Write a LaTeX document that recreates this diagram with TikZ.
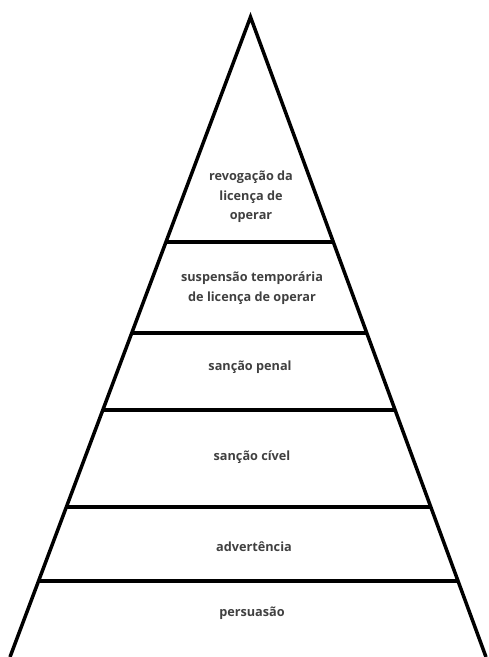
\documentclass[tikz,border=0pt]{standalone}
\usepackage{fontspec}
\setmainfont{Open Sans}
\usetikzlibrary{calc}
\tikzset{
    level/.style={line width=3.5pt},
    side/.style={line width=3.5pt, line join=miter},
    label/.style={align=center, text=black!75, font=\bfseries\fontsize{12.7}{19.5}\selectfont}
}
\begin{document}
\begin{tikzpicture}[x=1pt,y=-1pt]
\useasboundingbox (0,0) rectangle (489,657);
\coordinate (apex) at (250.5,17);
\coordinate (bl) at (10,657);
\coordinate (br) at (486,657);
\draw[side] (bl) -- (apex) -- (br);
\draw[black!20, line width=0.8pt] (bl) -- (br);
\foreach \t in {0.3516,0.4938,0.6141,0.7656,0.8813}
    \draw[level] ($(apex)!\t!(bl)$) -- ($(apex)!\t!(br)$);
\node[label] (revogacao) at (251,197) {revogação da\\licença de\\operar};
\node[label] (suspensao) at (252,288) {suspensão temporária\\de licença de operar};
\node[label] (penal) at (250,367) {sanção penal};
\node[label] (civel) at (252,457) {sanção cível};
\node[label] (advertencia) at (254,547) {advertência};
\node[label] (persuasao) at (252,613) {persuasão};
\end{tikzpicture}
\end{document}
